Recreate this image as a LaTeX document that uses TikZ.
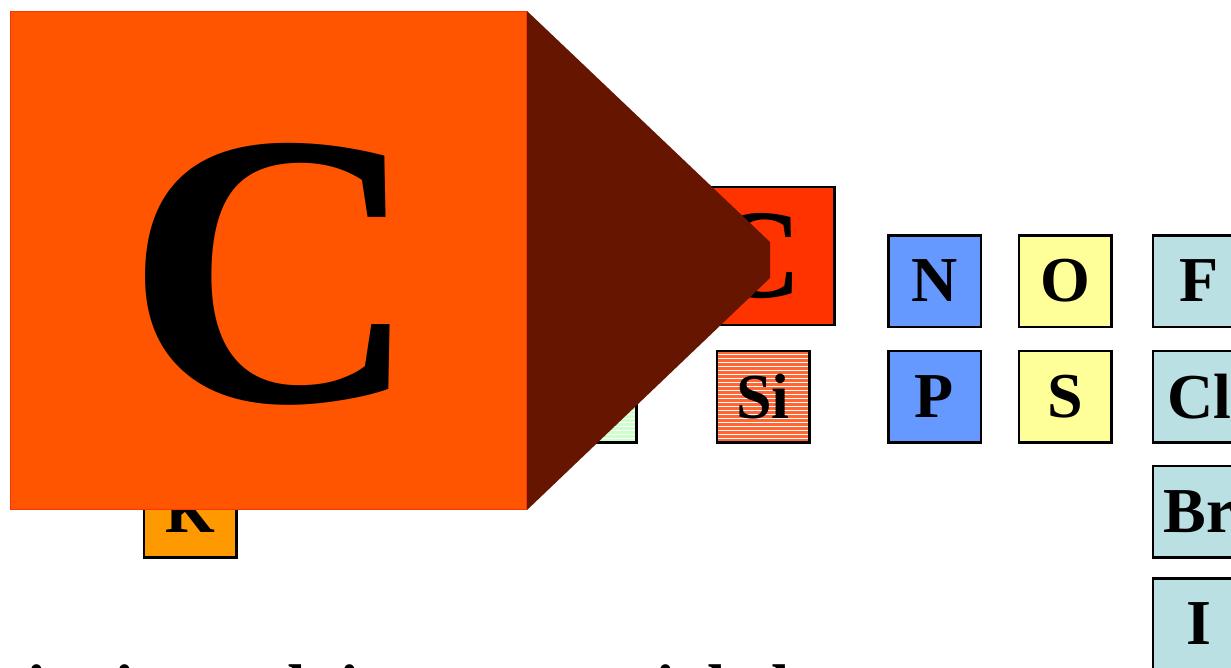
\documentclass[tikz,border=0pt]{standalone}
\usepackage{fontspec}
\setmainfont{Liberation Serif}
\definecolor{bigorange}{RGB}{255,85,0}
\definecolor{bigborder}{RGB}{255,51,0}
\definecolor{pyr}{RGB}{102,21,0}
\definecolor{redc}{RGB}{255,51,0}
\definecolor{siorange}{RGB}{255,102,51}
\definecolor{lgreen}{RGB}{204,255,204}
\definecolor{kcol}{RGB}{255,153,0}
\definecolor{npcol}{RGB}{102,153,255}
\definecolor{oscol}{RGB}{255,255,153}
\definecolor{halcol}{RGB}{187,224,227}
\tikzset{
  elem/.style={draw=black, line width=2.5pt, minimum width=92.5pt, minimum height=91.5pt,
    inner sep=0pt, font=\fontsize{64}{64}\selectfont\bfseries},
  stripes/.style={path picture={\foreach \k in {1,...,24}
      \draw[white,line width=0.9pt] ([yshift=\k*4pt]path picture bounding box.south west) --
        ([yshift=\k*4pt]path picture bounding box.south east);}}
}
\begin{document}
\begin{tikzpicture}[x=1pt,y=-1pt]
\useasboundingbox (0,0) rectangle (1231,667);
\clip (0,0) rectangle (1231,667);
% bottom text (cut off by the lower edge)
\node[anchor=base west, inner sep=0pt, font=\fontsize{66}{66}\selectfont\bfseries] (txt) at (27,710)
  {ionic, each is an essential element};
% small element boxes
\node[elem, fill=kcol] (K) at (190,511.5) {K};
\node[elem, fill=lgreen, stripes] (G) at (590,396.5) {};
\node[elem, fill=siorange, stripes] (Si) at (763,396.5) {Si};
\node[draw=black, line width=2.5pt, fill=redc, minimum width=157pt, minimum height=138pt,
  inner sep=0pt, font=\fontsize{127}{127}\selectfont\bfseries] (Cs) at (756,256) {C};
\node[elem, fill=npcol] (N) at (934.5,281) {N};
\node[elem, fill=npcol] (P) at (934.5,396.5) {P};
\node[elem, fill=oscol] (O) at (1065,281) {O};
\node[elem, fill=oscol] (S) at (1065,396.5) {S};
\node[elem, fill=halcol] (F) at (1199,281) {F};
\node[elem, fill=halcol] (Cl) at (1199,396.5) {Cl};
\node[elem, fill=halcol] (Br) at (1199,511.5) {Br};
\node[elem, fill=halcol] (I) at (1199,624) {I};
% zoom pyramid and enlarged C
\fill[pyr] (527,11) -- (770,242) -- (770,278) -- (527,510) -- cycle;
\node[fill=bigorange, draw=bigborder, line width=1pt, minimum width=516pt, minimum height=498pt,
  inner sep=0pt] (big) at (268.5,260.5) {};
\node[anchor=base west, inner sep=0pt, xscale=1.05, transform shape,
  font=\fontsize{390}{390}\selectfont\bfseries] (bigC) at (125,401) {C};
\end{tikzpicture}
\end{document}
